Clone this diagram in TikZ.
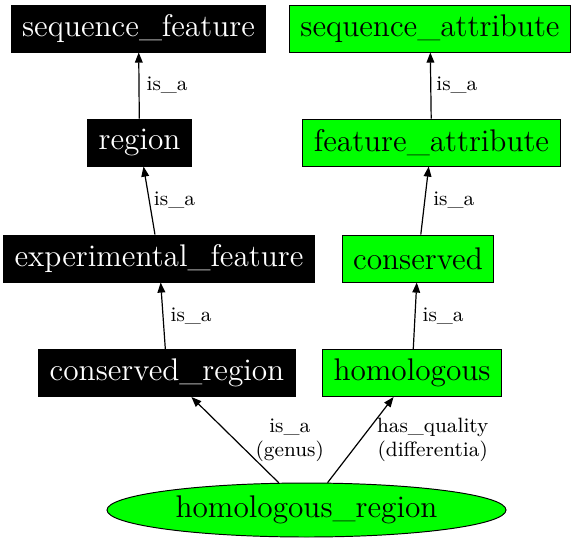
\documentclass[tikz,border=0pt]{standalone}
\usetikzlibrary{arrows.meta,shapes.geometric}
\definecolor{featgreen}{RGB}{0,255,0}
\tikzset{
  nodefont/.style={font=\fontsize{13}{15}\selectfont},
  blackbox/.style={draw=black, fill=black, text=white, minimum height=19.5pt, inner xsep=4.6pt, nodefont},
  greenbox/.style={draw=black, fill=featgreen, minimum height=19.5pt, inner xsep=4.6pt, nodefont},
  edgelab/.style={font=\fontsize{8.6}{10}\selectfont, inner sep=0pt, anchor=west, align=center},
  isa/.style={-{Triangle[length=4.2pt,width=3.2pt]}, line width=0.5pt}
}
\begin{document}
\begin{tikzpicture}[x=0.415pt,y=-0.415pt]
\useasboundingbox (0,0) rectangle (576,543);
%% term boxes
\node[blackbox] (seqfeat) at (138.5,28.5) {sequence\_feature};
\node[greenbox] (seqattr) at (430,28.5) {sequence\_attribute};
\node[blackbox] (region) at (139.5,142.5) {region};
\node[greenbox] (featattr) at (431.5,142.5) {feature\_attribute};
\node[blackbox] (expfeat) at (159,258.5) {experimental\_feature};
\node[greenbox] (conserved) at (418,258.5) {conserved};
\node[blackbox] (consreg) at (167,373) {conserved\_region};
\node[greenbox] (homol) at (412,373) {homologous};
\node[ellipse, draw=black, fill=featgreen, minimum width=165.6pt, minimum height=22.4pt, inner sep=0pt, nodefont] (homreg) at (306.5,510) {homologous\_region};
%% relations
\draw[isa] (region) -- node[edgelab, xshift=2.9pt]{is\_a} (seqfeat);
\draw[isa] (featattr) -- node[edgelab, xshift=2.1pt]{is\_a} (seqattr);
\draw[isa] (expfeat) -- node[edgelab, xshift=1.7pt]{is\_a} (region);
\draw[isa] (conserved) -- node[edgelab, xshift=3.3pt]{is\_a} (featattr);
\draw[isa] (consreg) -- node[edgelab, xshift=2.9pt]{is\_a} (expfeat);
\draw[isa] (homol) -- node[edgelab, xshift=2.9pt]{is\_a} (conserved);
\draw[isa] (homreg) -- node[edgelab, xshift=8.3pt]{is\_a\\(genus)} (consreg);
\draw[isa] (homreg) -- node[edgelab, xshift=6.6pt]{has\_quality\\(differentia)} (homol);
\end{tikzpicture}
\end{document}
